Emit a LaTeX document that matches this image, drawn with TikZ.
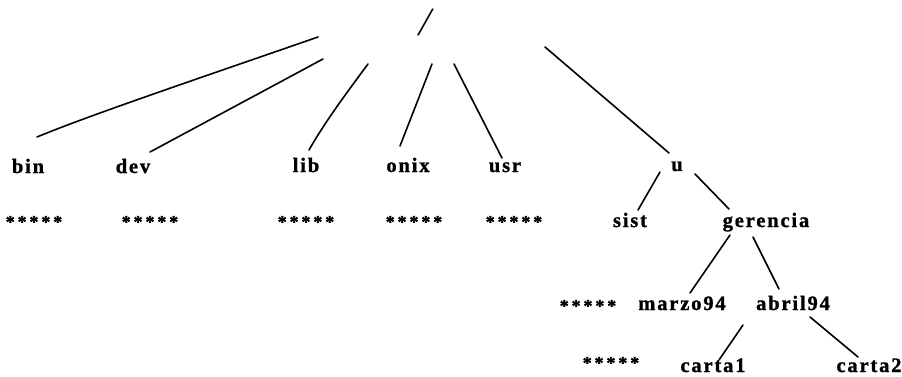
\documentclass[tikz,border=0pt]{standalone}
\usepackage{fontspec}
\setmainfont{Liberation Serif}
\newfontfamily\lblfont{Liberation Serif}[LetterSpace=9, BoldFeatures={FakeBold=1.2}]
\newfontfamily\starfont{Liberation Serif}[LetterSpace=16, BoldFeatures={FakeBold=1}]
\newfontfamily\rootfont{Liberation Serif}

\tikzset{
  lbl/.style={font=\lblfont\bfseries\fontsize{20.5}{20.5}\selectfont, anchor=base, inner sep=0pt},
  starrow/.style={font=\starfont\bfseries\fontsize{18}{18}\selectfont, anchor=center, inner sep=0pt},
  edge/.style={line width=1.6pt, line cap=round},
}

\begin{document}
\begin{tikzpicture}[x=1pt, y=-1pt]
  \useasboundingbox (0,0) rectangle (902,377);

  % root directory
  \node[font=\rootfont\fontsize{40}{40}\selectfont, xslant=0.22, inner sep=0pt] (root) at (425.5,23) {/};

  % first level
  \node[lbl] (bin)  at (28,173)  {bin};
  \node[lbl] (dev)  at (133,173) {dev};
  \node[lbl] (lib)  at (306,172) {lib};
  \node[lbl] (onix) at (408,172) {onix};
  \node[lbl] (usr)  at (505,172) {usr};
  \node[lbl] (u)    at (677,171) {u};

  % second level
  \node[starrow] (st1) at (34,222)  {*****};
  \node[starrow] (st2) at (150,222) {*****};
  \node[starrow] (st3) at (306,222) {*****};
  \node[starrow] (st4) at (414,222) {*****};
  \node[starrow] (st5) at (514,222) {*****};
  \node[lbl] (sist)     at (630,227) {sist};
  \node[lbl] (gerencia) at (766,227) {gerencia};

  % third level
  \node[starrow] (st6) at (588,306) {*****};
  \node[lbl] (marzo) at (682,310) {marzo94};
  \node[lbl] (abril) at (793,310) {abril94};

  % fourth level
  \node[starrow] (st7) at (611,363) {*****};
  \node[lbl] (carta1) at (713,372) {carta1};
  \node[lbl] (carta2) at (869,372) {carta2};

  % connector end points
  \coordinate (r-bin)  at (318,37);  \coordinate (e-bin)  at (37,137);
  \coordinate (r-dev)  at (323,59);  \coordinate (e-dev)  at (150,152);
  \coordinate (r-lib)  at (368,64);  \coordinate (e-lib)  at (309,150);
  \coordinate (r-onix) at (432,64);  \coordinate (e-onix) at (400,146);
  \coordinate (r-usr)  at (454,64);  \coordinate (e-usr)  at (502,158);
  \coordinate (r-u)    at (545,47);  \coordinate (e-u)    at (669,153);
  \coordinate (u-sist) at (660,172); \coordinate (e-sist) at (638,210);
  \coordinate (u-ger)  at (695,174); \coordinate (e-ger)  at (729,209);
  \coordinate (g-mar)  at (730,235); \coordinate (e-mar)  at (690,293);
  \coordinate (g-abr)  at (753,237); \coordinate (e-abr)  at (779,289);
  \coordinate (a-c1)   at (743,325); \coordinate (e-c1)   at (719,360);
  \coordinate (a-c2)   at (810,317); \coordinate (e-c2)   at (858,357);

  \draw[edge] (r-bin) .. controls (200,78) and (90,115) .. (e-bin);
  \draw[edge] (r-dev) -- (e-dev);
  \draw[edge] (r-lib) .. controls (345,95) and (325,122) .. (e-lib);
  \draw[edge] (r-onix) -- (e-onix);
  \draw[edge] (r-usr) -- (e-usr);
  \draw[edge] (r-u) -- (e-u);
  \draw[edge] (u-sist) -- (e-sist);
  \draw[edge] (u-ger) -- (e-ger);
  \draw[edge] (g-mar) -- (e-mar);
  \draw[edge] (g-abr) -- (e-abr);
  \draw[edge] (a-c1) -- (e-c1);
  \draw[edge] (a-c2) -- (e-c2);
\end{tikzpicture}
\end{document}
